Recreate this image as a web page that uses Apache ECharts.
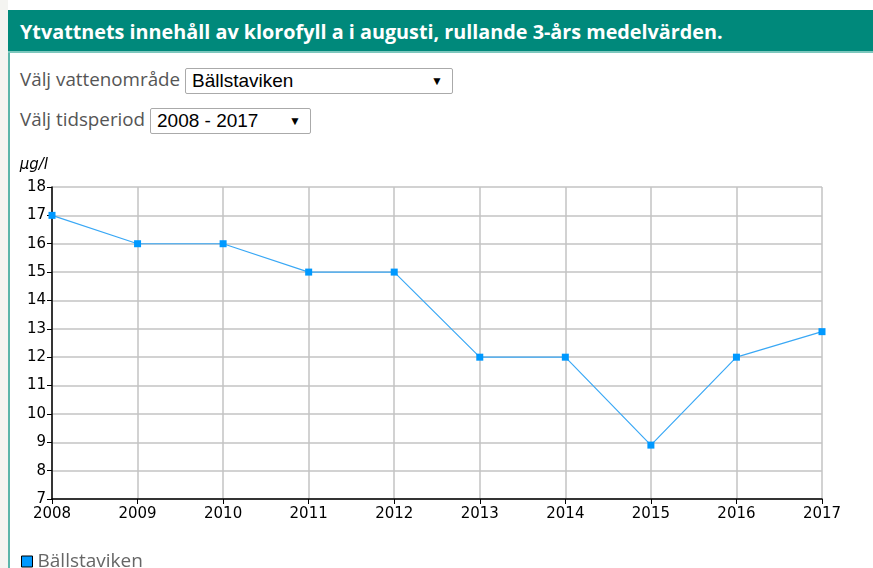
<!DOCTYPE html>
<html>
<head>
<meta charset="utf-8">
<script src="https://cdn.jsdelivr.net/npm/echarts@6/dist/echarts.min.js"></script>
<style>
    body { margin: 0; background: #fff; width: 873px; height: 568px; overflow: hidden; position: relative; }
    #side { position: absolute; left: 0; top: 0; width: 8px; height: 568px; background: #f4f4f1; }
    #border { position: absolute; left: 8px; top: 10px; width: 2px; height: 558px; background: #5bb5aa; }
    #header {
        position: absolute; left: 8px; top: 10px; width: 865px; height: 43px;
        background: #00897b; border-bottom: 2px solid #7cc7bd;
        color: #fff; font-family: "Open Sans", sans-serif; font-weight: bold; font-size: 19.8px;
        line-height: 44px; padding-left: 12px; box-sizing: border-box; white-space: nowrap;
    }
    .row { position: absolute; left: 20px; font-family: "Open Sans", sans-serif; font-size: 18.8px; color: #555; white-space: nowrap; }
    .sel {
        display: inline-block; position: relative; vertical-align: middle;
        height: 26px; border: 1px solid #aaa; border-radius: 2px; box-sizing: border-box;
        font-family: "Liberation Sans", Arial, sans-serif; font-size: 19px; color: #000;
        line-height: 24px; padding-left: 6px; background: #fff;
    }
    .sel span.arrow { position: absolute; right: 9px; top: 0; font-size: 12px; }
    #chart { position: absolute; left: 0; top: 150px; width: 873px; height: 418px; }
</style>
</head>
<body>
<div id="side"></div>
<div id="border"></div>
<div id="header">Ytvattnets innehåll av klorofyll a i augusti, rullande 3-års medelvärden.</div>
<div class="row" style="top:66px">Välj vattenområde <div class="sel" style="width:268px">Bällstaviken<span class="arrow">▼</span></div></div>
<div class="row" style="top:106px">Välj tidsperiod <div class="sel" style="width:161px">2008 - 2017<span class="arrow">▼</span></div></div>
<div id="chart"></div>
<script>
// År och värden (µg/l)
const years = ['2008', '2009', '2010', '2011', '2012', '2013', '2014', '2015', '2016', '2017'];
const ballstaviken = [17, 16, 16, 15, 15, 12, 12, 8.9, 12, 12.9];
const seriesName = 'Bällstaviken';
const unitLabel = 'µg/l';

const chart = echarts.init(document.getElementById('chart'));

const axisFont = { fontFamily: 'DejaVu Sans, Verdana, sans-serif', fontSize: 15, color: '#000' };

chart.setOption({
    animation: false,
    grid: { left: 52, right: 51, top: 37, bottom: 69 },
    legend: {
        left: 16,
        bottom: -8,
        icon: 'rect',
        itemWidth: 11,
        itemHeight: 11,
        itemGap: 4,
        textStyle: { fontFamily: 'Open Sans, sans-serif', fontSize: 19, color: '#666' },
        data: [{ name: seriesName, itemStyle: { color: '#0099ff', borderColor: '#000', borderWidth: 1 } }]
    },
    xAxis: {
        type: 'category',
        data: years,
        boundaryGap: false,
        axisLine: { lineStyle: { color: '#000', width: 1.5 } },
        axisTick: { show: true, length: 5, lineStyle: { color: '#000' } },
        axisLabel: Object.assign({ margin: 8 }, axisFont),
        splitLine: { show: true, lineStyle: { color: '#c3c3c3', width: 1.5 } }
    },
    yAxis: {
        type: 'value',
        min: 7,
        max: 18,
        interval: 1,
        name: unitLabel,
        nameLocation: 'end',
        nameGap: 14,
        nameTextStyle: {
            fontFamily: 'DejaVu Sans, Verdana, sans-serif', fontSize: 15, fontStyle: 'italic',
            color: '#000', align: 'right', padding: [0, 4, 0, 0]
        },
        axisLine: { show: true, lineStyle: { color: '#000', width: 1.5 } },
        axisTick: { show: true, length: 5, lineStyle: { color: '#000' } },
        axisLabel: Object.assign({ margin: 6 }, axisFont),
        splitLine: { lineStyle: { color: '#c3c3c3', width: 1.5 } }
    },
    series: [{
        name: seriesName,
        type: 'line',
        data: ballstaviken,
        symbol: 'rect',
        symbolSize: 7,
        showAllSymbol: true,
        lineStyle: { color: '#3aa8f5', width: 1.2 },
        itemStyle: { color: '#0099ff' }
    }]
});
</script>
</body>
</html>
